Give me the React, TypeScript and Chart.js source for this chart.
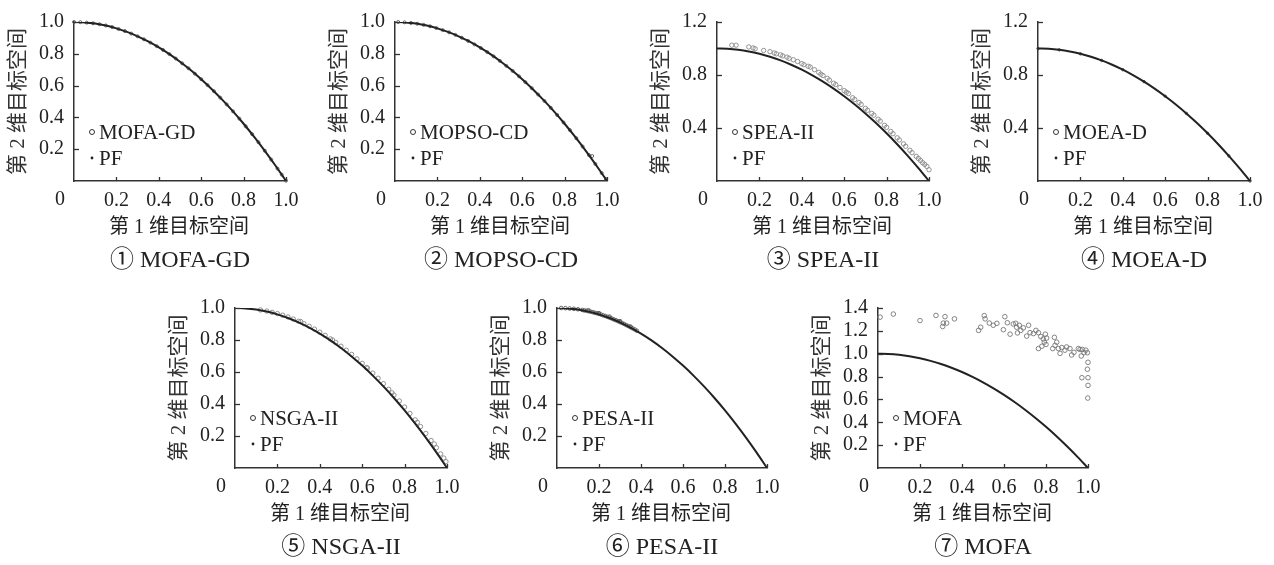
import React, { useEffect, useRef } from 'react';
import { Chart, registerables } from 'chart.js';

Chart.register(...registerables);

const FONT = '"Liberation Serif", "Times New Roman", "Noto Sans CJK SC", serif';
const TEXT = '#222222';
const AXIS = '#333333';

// Pareto front
const pfX = [0, 0.05, 0.1, 0.15, 0.2, 0.25, 0.3, 0.35, 0.4, 0.45, 0.5, 0.55, 0.6, 0.65, 0.7, 0.75, 0.8, 0.85, 0.9, 0.95, 1.0];
const pfY = [1.0, 0.9975, 0.99, 0.9775, 0.96, 0.9375, 0.91, 0.8775, 0.84, 0.7975, 0.75, 0.6975, 0.64, 0.5775, 0.51, 0.4375, 0.36, 0.2775, 0.19, 0.0975, 0.0];

const xTicks = [0, 0.2, 0.4, 0.6, 0.8, 1.0];

const mofaGd: number[][] = [[0.0, 1.0], [0.03, 0.999], [0.06, 0.996], [0.09, 0.992], [0.12, 0.986], [0.15, 0.978], [0.18, 0.968], [0.21, 0.956], [0.24, 0.943], [0.27, 0.927], [0.3, 0.91], [0.33, 0.891], [0.36, 0.87], [0.39, 0.848], [0.42, 0.824], [0.45, 0.798], [0.48, 0.77], [0.51, 0.74], [0.54, 0.709], [0.57, 0.675], [0.6, 0.64], [0.63, 0.603], [0.66, 0.565], [0.69, 0.524], [0.72, 0.482], [0.75, 0.438], [0.78, 0.392], [0.81, 0.344], [0.84, 0.295], [0.87, 0.244], [0.9, 0.19], [0.93, 0.135], [0.96, 0.078], [0.98, 0.04], [1.0, 0.002]];

const mopsoCd: number[][] = [[0.015, 1.0], [0.045, 0.998], [0.075, 0.994], [0.105, 0.989], [0.135, 0.982], [0.165, 0.973], [0.195, 0.962], [0.225, 0.949], [0.255, 0.935], [0.285, 0.919], [0.315, 0.901], [0.345, 0.881], [0.375, 0.859], [0.405, 0.836], [0.435, 0.811], [0.465, 0.784], [0.495, 0.755], [0.525, 0.724], [0.555, 0.692], [0.585, 0.658], [0.615, 0.622], [0.645, 0.584], [0.675, 0.544], [0.705, 0.503], [0.735, 0.46], [0.765, 0.415], [0.795, 0.368], [0.825, 0.32], [0.855, 0.269], [0.885, 0.217], [0.915, 0.163], [0.93, 0.157], [0.945, 0.107], [0.975, 0.05], [0.995, 0.012]];

const speaII: number[][] = [[0.07, 1.025], [0.09, 1.025], [0.15, 1.012], [0.17, 1.004], [0.18, 0.998], [0.22, 0.985], [0.25, 0.976], [0.27, 0.966], [0.28, 0.96], [0.3, 0.952], [0.31, 0.944], [0.33, 0.935], [0.34, 0.926], [0.36, 0.915], [0.38, 0.902], [0.4, 0.886], [0.41, 0.878], [0.43, 0.866], [0.44, 0.86], [0.46, 0.84], [0.48, 0.82], [0.49, 0.806], [0.5, 0.796], [0.52, 0.775], [0.53, 0.762], [0.55, 0.738], [0.56, 0.728], [0.58, 0.706], [0.6, 0.682], [0.61, 0.67], [0.62, 0.66], [0.64, 0.628], [0.65, 0.615], [0.67, 0.592], [0.68, 0.578], [0.7, 0.548], [0.71, 0.534], [0.73, 0.51], [0.74, 0.497], [0.76, 0.466], [0.77, 0.452], [0.79, 0.42], [0.8, 0.405], [0.82, 0.374], [0.83, 0.357], [0.85, 0.326], [0.86, 0.31], [0.88, 0.28], [0.89, 0.262], [0.91, 0.232], [0.92, 0.214], [0.94, 0.186], [0.95, 0.17], [0.96, 0.155], [0.97, 0.138], [0.98, 0.125], [0.99, 0.11], [1.0, 0.085]];

const moeaD: number[][] = [[0.0, 1.0], [0.1, 0.99], [0.2, 0.96], [0.3, 0.91], [0.4, 0.84], [0.5, 0.75], [0.6, 0.64], [0.7, 0.51], [0.8, 0.36], [0.9, 0.19], [1.0, 0.0]];

const nsgaII: number[][] = [[0.12, 0.988], [0.15, 0.981], [0.175, 0.973], [0.2, 0.965], [0.225, 0.955], [0.25, 0.944], [0.275, 0.931], [0.3, 0.917], [0.31, 0.915], [0.325, 0.902], [0.35, 0.886], [0.375, 0.868], [0.4, 0.849], [0.425, 0.829], [0.45, 0.807], [0.46, 0.8], [0.475, 0.785], [0.5, 0.761], [0.525, 0.736], [0.55, 0.71], [0.575, 0.682], [0.6, 0.654], [0.62, 0.628], [0.625, 0.624], [0.65, 0.593], [0.675, 0.561], [0.7, 0.527], [0.725, 0.492], [0.74, 0.47], [0.75, 0.456], [0.775, 0.419], [0.8, 0.381], [0.825, 0.341], [0.85, 0.301], [0.86, 0.285], [0.875, 0.259], [0.9, 0.216], [0.925, 0.172], [0.94, 0.15], [0.95, 0.127], [0.97, 0.088], [0.985, 0.062], [0.995, 0.04]];

const pesaII: number[][] = [[0.02, 1.0], [0.04, 0.999], [0.06, 0.997], [0.08, 0.995], [0.1, 0.992], [0.12, 0.988], [0.13, 0.985], [0.14, 0.983], [0.15, 0.98], [0.15, 0.986], [0.16, 0.977], [0.17, 0.974], [0.18, 0.97], [0.19, 0.967], [0.2, 0.963], [0.2, 0.968], [0.21, 0.959], [0.22, 0.954], [0.23, 0.95], [0.24, 0.945], [0.25, 0.94], [0.25, 0.946], [0.26, 0.935], [0.27, 0.929], [0.28, 0.924], [0.29, 0.918], [0.3, 0.912], [0.3, 0.918], [0.31, 0.906], [0.32, 0.9], [0.33, 0.893], [0.34, 0.887], [0.35, 0.88], [0.35, 0.884], [0.36, 0.873], [0.37, 0.866], [0.38, 0.858]];

const mofa: number[][] = [[0.01, 1.32], [0.073, 1.347], [0.2, 1.29], [0.276, 1.335], [0.319, 1.324], [0.311, 1.268], [0.327, 1.268], [0.308, 1.238], [0.364, 1.305], [0.506, 1.333], [0.51, 1.305], [0.489, 1.232], [0.479, 1.204], [0.53, 1.268], [0.549, 1.249], [0.566, 1.266], [0.604, 1.324], [0.597, 1.21], [0.616, 1.271], [0.629, 1.171], [0.644, 1.26], [0.656, 1.266], [0.66, 1.232], [0.673, 1.249], [0.68, 1.204], [0.664, 1.182], [0.692, 1.226], [0.708, 1.154], [0.717, 1.249], [0.724, 1.184], [0.74, 1.176], [0.752, 1.204], [0.764, 1.184], [0.775, 1.151], [0.787, 1.129], [0.797, 1.171], [0.803, 1.137], [0.792, 1.101], [0.764, 1.045], [0.78, 1.065], [0.8, 1.081], [0.832, 1.045], [0.843, 1.073], [0.84, 1.143], [0.851, 1.101], [0.859, 1.045], [0.867, 1.003], [0.875, 1.054], [0.89, 1.031], [0.898, 1.059], [0.914, 1.045], [0.922, 0.989], [0.933, 1.012], [0.954, 1.045], [0.962, 1.037], [0.973, 1.037], [0.981, 1.009], [0.99, 1.031], [0.997, 1.009], [0.968, 0.98], [1.0, 0.925], [0.997, 0.864], [0.971, 0.79], [1.0, 0.79], [1.0, 0.723], [0.999, 0.612]];

type PanelCfg = {
  name: string;
  caption: string;
  points: number[][];
  yMax: number;
  yStep: number;
  L: number; T: number; R: number; B: number;
  pointColor: string;
  pointRadius: number;
};

const panels: PanelCfg[] = [
  { name: 'MOFA-GD', caption: '① MOFA-GD', points: mofaGd, yMax: 1.0, yStep: 0.2, L: 74, T: 15, R: 286, B: 181, pointColor: '#555', pointRadius: 1.5 },
  { name: 'MOPSO-CD', caption: '② MOPSO-CD', points: mopsoCd, yMax: 1.0, yStep: 0.2, L: 395, T: 15, R: 607, B: 181, pointColor: '#555', pointRadius: 1.5 },
  { name: 'SPEA-II', caption: '③ SPEA-II', points: speaII, yMax: 1.2, yStep: 0.4, L: 717, T: 15, R: 929, B: 181, pointColor: '#888', pointRadius: 2.2 },
  { name: 'MOEA-D', caption: '④ MOEA-D', points: moeaD, yMax: 1.2, yStep: 0.4, L: 1038, T: 15, R: 1250, B: 181, pointColor: '#333', pointRadius: 1.2 },
  { name: 'NSGA-II', caption: '⑤ NSGA-II', points: nsgaII, yMax: 1.0, yStep: 0.2, L: 235, T: 301, R: 447, B: 468, pointColor: '#888', pointRadius: 2.2 },
  { name: 'PESA-II', caption: '⑥ PESA-II', points: pesaII, yMax: 1.0, yStep: 0.2, L: 557, T: 301, R: 767, B: 468, pointColor: '#555', pointRadius: 1.8 },
  { name: 'MOFA', caption: '⑦ MOFA', points: mofa, yMax: 1.4, yStep: 0.2, L: 878, T: 301, R: 1088, B: 468, pointColor: '#777', pointRadius: 2.3 },
];

const PAD_L = 74;
const PAD_T = 15;
const PAD_R = 22;
const BOT = 96;

function Panel({ cfg }: { cfg: PanelCfg }) {
  const ref = useRef<HTMLCanvasElement>(null);
  const W = cfg.R - cfg.L + PAD_L + PAD_R;
  const H = cfg.B - cfg.T + PAD_T + BOT;

  useEffect(() => {
    if (!ref.current) return;
    const decor = {
      id: 'decor',
      afterDraw(chart: any) {
        const ctx = chart.ctx as CanvasRenderingContext2D;
        const a = chart.chartArea;
        const xs = chart.scales.x;
        const ys = chart.scales.y;
        ctx.save();
        // inward tick marks
        ctx.strokeStyle = AXIS;
        ctx.lineWidth = 1.3;
        xs.ticks.forEach((t: any) => {
          if (t.value === 0) return;
          const px = Math.round(xs.getPixelForValue(t.value)) + 0.5;
          ctx.beginPath();
          ctx.moveTo(px, a.bottom);
          ctx.lineTo(px, a.bottom - 4);
          ctx.stroke();
        });
        ys.ticks.forEach((t: any) => {
          if (t.value === 0) return;
          const py = Math.round(ys.getPixelForValue(t.value)) + 0.5;
          ctx.beginPath();
          ctx.moveTo(a.left, py);
          ctx.lineTo(a.left + 5, py);
          ctx.stroke();
        });
        const cx = (a.left + a.right) / 2;
        ctx.fillStyle = TEXT;
        ctx.textAlign = 'center';
        ctx.textBaseline = 'middle';
        // origin label
        ctx.font = `20px ${FONT}`;
        ctx.fillText('0', a.left - 14, a.bottom + 19);
        // x title
        ctx.font = `20px ${FONT}`;
        ctx.fillText('第 1 维目标空间', cx - 1, a.bottom + 47);
        // caption
        ctx.font = `24px ${FONT}`;
        ctx.fillText(cfg.caption, cx, a.bottom + 80);
        // y title
        ctx.save();
        ctx.translate(a.left - 56, (a.top + a.bottom) / 2);
        ctx.rotate(-Math.PI / 2);
        ctx.fillStyle = '#333';
        ctx.font = `21px ${FONT}`;
        ctx.fillText('第 2 维目标空间', 0, 0);
        ctx.restore();
        // legend
        ctx.textAlign = 'left';
        ctx.font = `21px ${FONT}`;
        const ly1 = a.top + 110;
        const ly2 = a.top + 136;
        ctx.strokeStyle = '#333';
        ctx.lineWidth = 1;
        ctx.beginPath();
        ctx.arc(a.left + 18, ly1, 2.5, 0, Math.PI * 2);
        ctx.stroke();
        ctx.fillText(cfg.name, a.left + 25, ly1 + 1);
        ctx.fillStyle = '#222';
        ctx.beginPath();
        ctx.arc(a.left + 18, ly2, 1.4, 0, Math.PI * 2);
        ctx.fill();
        ctx.fillText('PF', a.left + 25, ly2 + 1);
        ctx.restore();
      },
    };

    const chart = new Chart(ref.current, {
      type: 'scatter',
      data: {
        datasets: [
          {
            label: 'PF',
            data: pfX.map((x, i) => ({ x, y: pfY[i] })),
            showLine: true,
            borderColor: '#222',
            borderWidth: 2,
            pointRadius: 0,
            cubicInterpolationMode: 'monotone',
            order: 0,
          } as any,
          {
            label: cfg.name,
            data: cfg.points.map((p) => ({ x: p[0], y: p[1] })),
            showLine: false,
            pointStyle: 'circle',
            pointRadius: cfg.pointRadius,
            pointBorderWidth: 0.9,
            pointBorderColor: cfg.pointColor,
            pointBackgroundColor: 'rgba(255,255,255,0)',
            clip: false,
            order: 1,
          } as any,
        ],
      },
      options: {
        responsive: false,
        animation: false,
        devicePixelRatio: 1,
        layout: { padding: { left: 0, top: PAD_T, right: PAD_R, bottom: 0 } },
        plugins: { legend: { display: false }, tooltip: { enabled: false }, title: { display: false } },
        scales: {
          x: {
            type: 'linear',
            min: 0,
            max: 1,
            afterFit: (s: any) => { s.height = BOT; },
            afterBuildTicks: (s: any) => { s.ticks = xTicks.map((v) => ({ value: v })); },
            grid: { display: false, drawTicks: false },
            border: { display: true, color: AXIS, width: 1.5 },
            ticks: {
              autoSkip: false,
              maxRotation: 0,
              padding: 8,
              color: TEXT,
              font: { family: FONT, size: 20 },
              callback: (v: any) => (Number(v) === 0 ? '' : Number(v).toFixed(1)),
            },
          },
          y: {
            type: 'linear',
            min: 0,
            max: cfg.yMax,
            afterFit: (s: any) => { s.width = PAD_L; },
            grid: { display: false, drawTicks: false },
            border: { display: true, color: AXIS, width: 1.5 },
            ticks: {
              stepSize: cfg.yStep,
              autoSkip: false,
              padding: 10,
              color: TEXT,
              font: { family: FONT, size: 20 },
              callback: (v: any) => (Math.abs(Number(v)) < 1e-9 ? '' : Number(v).toFixed(1)),
            },
          },
        },
      },
      plugins: [decor],
    } as any);
    return () => chart.destroy();
  }, []);

  return (
    <div style={{ position: 'absolute', left: cfg.L - PAD_L, top: cfg.T - PAD_T, width: W, height: H }}>
      <canvas ref={ref} width={W} height={H} style={{ width: W, height: H, display: 'block' }} />
    </div>
  );
}

export default function App() {
  return (
    <div style={{ position: 'absolute', left: 0, top: 0, width: 1274, height: 565, background: '#fff' }}>
      {panels.map((p) => (
        <Panel key={p.name} cfg={p} />
      ))}
    </div>
  );
}
